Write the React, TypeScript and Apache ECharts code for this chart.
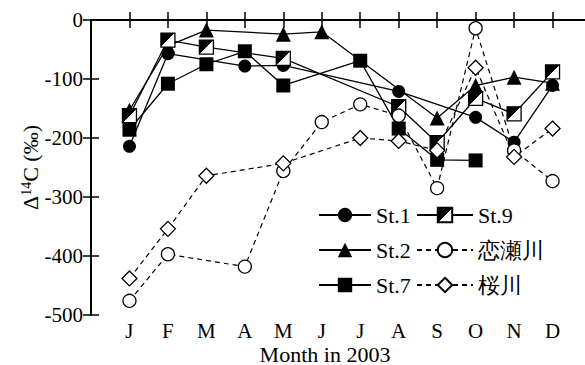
import React, { useEffect, useRef } from "react";
import * as echarts from "echarts";

// Month initials along the bottom axis (positions 1..12)
const MONTH_LABELS = ["J", "F", "M", "A", "M", "J", "J", "A", "S", "O", "N", "D"];
const Y_TICKS = { min: -500, max: 0, interval: 100 };

// Δ14C (‰) per sampling month, [month, value]
const st1: number[][] = [[1, -214], [2, -57], [4, -78], [5, -77], [8, -121], [10, -165], [11, -207], [12, -111]];
const st2: number[][] = [[1, -153], [2, -44], [3, -17], [5, -24], [6, -20], [9, -166], [10, -111], [11, -97], [12, -107]];
const st7: number[][] = [[1, -186], [2, -108], [3, -75], [4, -53], [5, -111], [7, -69], [8, -184], [9, -237], [10, -238]];
const st9: number[][] = [[1, -162], [2, -34], [3, -46], [5, -65], [8, -147], [9, -208], [10, -133], [11, -159], [12, -88]];
const koise: number[][] = [[1, -476], [2, -397], [4, -418], [5, -256], [6, -173], [7, -143], [8, -162], [9, -285], [10, -14], [11, -221], [12, -273]];
const sakura: number[][] = [[1, -438], [2, -354], [3, -264], [5, -243], [7, -200], [8, -205], [9, -221], [10, -81], [11, -232], [12, -184]];

const FONT = "Liberation Serif";
const serif = (size: number) => ({
  fontFamily: FONT,
  fontSize: size,
  fontStyle: "normal" as const,
  fontWeight: "normal" as const,
  color: "#000",
});

export default function App() {
  const ref = useRef<HTMLDivElement>(null);

  useEffect(() => {
    if (!ref.current) return;
    const chart = echarts.init(ref.current, null, { renderer: "svg" });

    const solid = { color: "#000", width: 1.3, type: "solid" as const };
    const dashed = { color: "#000", width: 1.2, type: [5, 4] as any };
    // St.9 marker: square split along its diagonal, upper-left half black
    const halfFill = new echarts.graphic.LinearGradient(0, 0, 1, 1, [
      { offset: 0, color: "#000" },
      { offset: 0.5, color: "#000" },
      { offset: 0.5, color: "#fff" },
      { offset: 1, color: "#fff" },
    ]);

    const axisLine = { show: true, lineStyle: { color: "#000", width: 2 } };
    const tick = { show: true, inside: true, length: 8, lineStyle: { color: "#000", width: 1.5 } };

    const legendCommon = {
      orient: "vertical" as const,
      top: 199,
      itemHeight: 18,
      itemGap: 13,
      selectedMode: false,
      textStyle: { ...serif(22), lineHeight: 22 },
    };

    chart.setOption({
      animation: false,
      backgroundColor: "#fff",
      textStyle: serif(12),
      grid: { left: 91, top: 20, right: -6, bottom: 50, outerBoundsMode: "none" } as any,
      legend: [
        { ...legendCommon, left: 313, itemWidth: 52, data: ["St.1", "St.2", "St.7"] },
        { ...legendCommon, left: 411, itemWidth: 56, data: ["St.9", "恋瀬川", "桜川"] },
      ],
      xAxis: [
        {
          type: "value",
          min: 0,
          max: 13,
          interval: 1,
          position: "bottom",
          name: "Month in 2003",
          nameLocation: "middle",
          nameGap: 28,
          nameMoveOverlap: false,
          nameTextStyle: { ...serif(22), padding: [0, 32, 0, 0] },
          axisLine,
          axisTick: tick,
          splitLine: { show: false },
          axisLabel: {
            margin: 5,
            ...serif(21),
            showMinLabel: false,
            showMaxLabel: false,
            formatter: (v: number) => MONTH_LABELS[v - 1] ?? "",
          },
        } as any,
        {
          type: "value",
          min: 0,
          max: 13,
          interval: 1,
          position: "top",
          axisLine,
          axisTick: tick,
          splitLine: { show: false },
          axisLabel: { show: false },
        },
      ],
      yAxis: [
        {
          type: "value",
          ...Y_TICKS,
          position: "left",
          name: "{a|Δ}{b|14}{a|C (‰)}",
          nameLocation: "middle",
          nameRotate: 90,
          nameGap: 50,
          nameMoveOverlap: false,
          nameTextStyle: {
            ...serif(22),
            rich: {
              a: serif(22),
              b: { ...serif(14), verticalAlign: "top" },
            },
          },
          axisLine,
          axisTick: tick,
          splitLine: { show: false },
          axisLabel: { margin: 8, ...serif(21) },
        } as any,
        {
          type: "value",
          ...Y_TICKS,
          position: "right",
          axisLine,
          axisTick: tick,
          splitLine: { show: false },
          axisLabel: { show: false },
        },
      ],
      series: [
        {
          name: "St.1",
          type: "line",
          data: st1,
          symbol: "circle",
          symbolSize: 13,
          lineStyle: solid,
          itemStyle: { color: "#000" },
        },
        {
          name: "St.2",
          type: "line",
          data: st2,
          symbol: "triangle",
          symbolSize: 15,
          lineStyle: solid,
          itemStyle: { color: "#000" },
        },
        {
          name: "St.7",
          type: "line",
          data: st7,
          symbol: "rect",
          symbolSize: 14,
          lineStyle: solid,
          itemStyle: { color: "#000" },
        },
        {
          name: "St.9",
          type: "line",
          data: st9,
          symbol: "rect",
          symbolSize: 14,
          lineStyle: solid,
          itemStyle: { color: halfFill, borderColor: "#000", borderWidth: 1.3 },
        },
        {
          name: "恋瀬川",
          type: "line",
          data: koise,
          symbol: "circle",
          symbolSize: 13,
          lineStyle: dashed,
          itemStyle: { color: "#fff", borderColor: "#000", borderWidth: 1.3 },
        },
        {
          name: "桜川",
          type: "line",
          data: sakura,
          symbol: "diamond",
          symbolSize: 15,
          lineStyle: dashed,
          itemStyle: { color: "#fff", borderColor: "#000", borderWidth: 1.3 },
        },
      ],
    });

    return () => chart.dispose();
  }, []);

  return (
    <div
      ref={ref}
      style={{ position: "fixed", left: 0, top: 0, width: 585, height: 365, background: "#fff" }}
    />
  );
}
